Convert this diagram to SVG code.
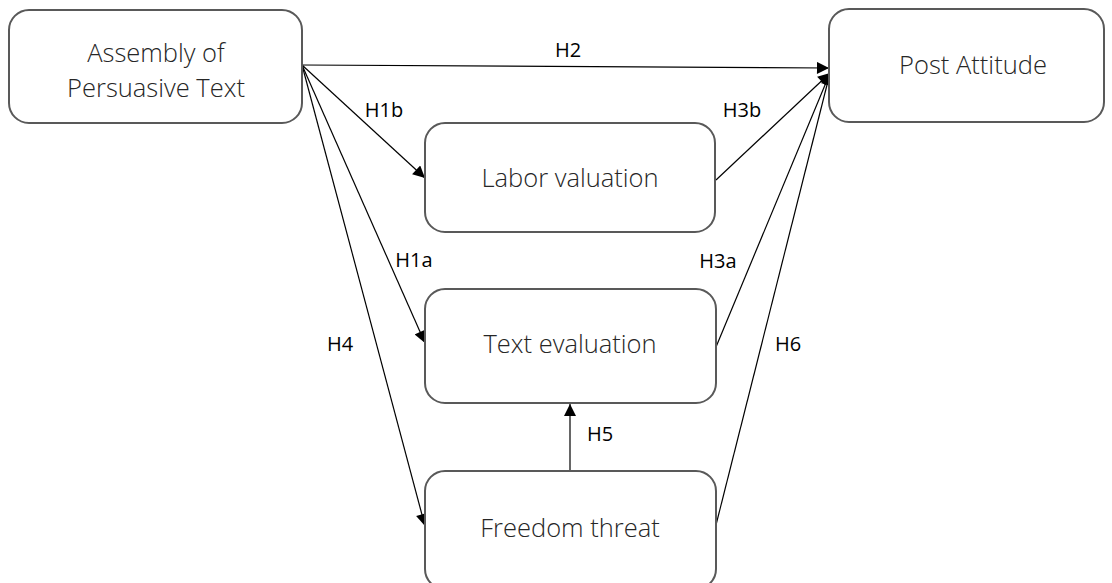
<svg xmlns="http://www.w3.org/2000/svg" width="1112" height="583" viewBox="0 0 1112 583">
  <style>
    .box { fill: #ffffff; stroke: #595959; stroke-width: 2; }
    .node-text { font-family: "Open Sans", "Liberation Sans", sans-serif; font-weight: 300; font-size: 25.5px; fill: #262626; text-anchor: middle; }
    .edge { stroke: #000000; stroke-width: 1.2; fill: none; marker-end: url(#arrow); }
    .edge-label { font-family: "Open Sans", "Liberation Sans", sans-serif; font-size: 20px; fill: #000000; text-anchor: middle; }
  </style>
  <defs>
    <marker id="arrow" viewBox="0 0 10 10" refX="10" refY="5" markerWidth="13" markerHeight="12" markerUnits="userSpaceOnUse" orient="auto">
      <path d="M0,0 L10,5 L0,10 Z" fill="#000000"/>
    </marker>
  </defs>
  <rect width="1112" height="583" fill="#ffffff"/>

  <g id="connectors">
    <line class="edge" x1="302" y1="65" x2="829" y2="68"/>
    <line class="edge" x1="302" y1="65" x2="425" y2="178"/>
    <line class="edge" x1="302" y1="65" x2="425" y2="343"/>
    <line class="edge" x1="302" y1="65" x2="425" y2="526"/>
    <line class="edge" x1="716" y1="180" x2="830" y2="73"/>
    <line class="edge" x1="716" y1="347" x2="830" y2="73"/>
    <line class="edge" x1="716" y1="525" x2="830" y2="73"/>
    <line class="edge" x1="570" y1="471" x2="570" y2="404"/>
    <text class="edge-label" x="568" y="57">H2</text>
    <text class="edge-label" x="384" y="117">H1b</text>
    <text class="edge-label" x="742" y="117">H3b</text>
    <text class="edge-label" x="414" y="267">H1a</text>
    <text class="edge-label" x="718" y="268">H3a</text>
    <text class="edge-label" x="340" y="351">H4</text>
    <text class="edge-label" x="788" y="351">H6</text>
    <text class="edge-label" x="600" y="441">H5</text>
  </g>

  <g id="node-assembly">
    <rect class="box" x="9" y="10" width="293" height="113" rx="20"/>
    <text class="node-text" x="156" y="62">Assembly of</text>
    <text class="node-text" x="156" y="97">Persuasive Text</text>
  </g>
  <g id="node-post-attitude">
    <rect class="box" x="829" y="9" width="275" height="113" rx="20"/>
    <text class="node-text" x="973" y="74">Post Attitude</text>
  </g>
  <g id="node-labor">
    <rect class="box" x="425" y="123" width="290" height="109" rx="20"/>
    <text class="node-text" x="570" y="187">Labor valuation</text>
  </g>
  <g id="node-text-eval">
    <rect class="box" x="425" y="289" width="291" height="114" rx="20"/>
    <text class="node-text" x="570" y="353">Text evaluation</text>
  </g>
  <g id="node-freedom">
    <rect class="box" x="425" y="471" width="291" height="118" rx="20"/>
    <text class="node-text" x="570" y="537">Freedom threat</text>
  </g>
</svg>
